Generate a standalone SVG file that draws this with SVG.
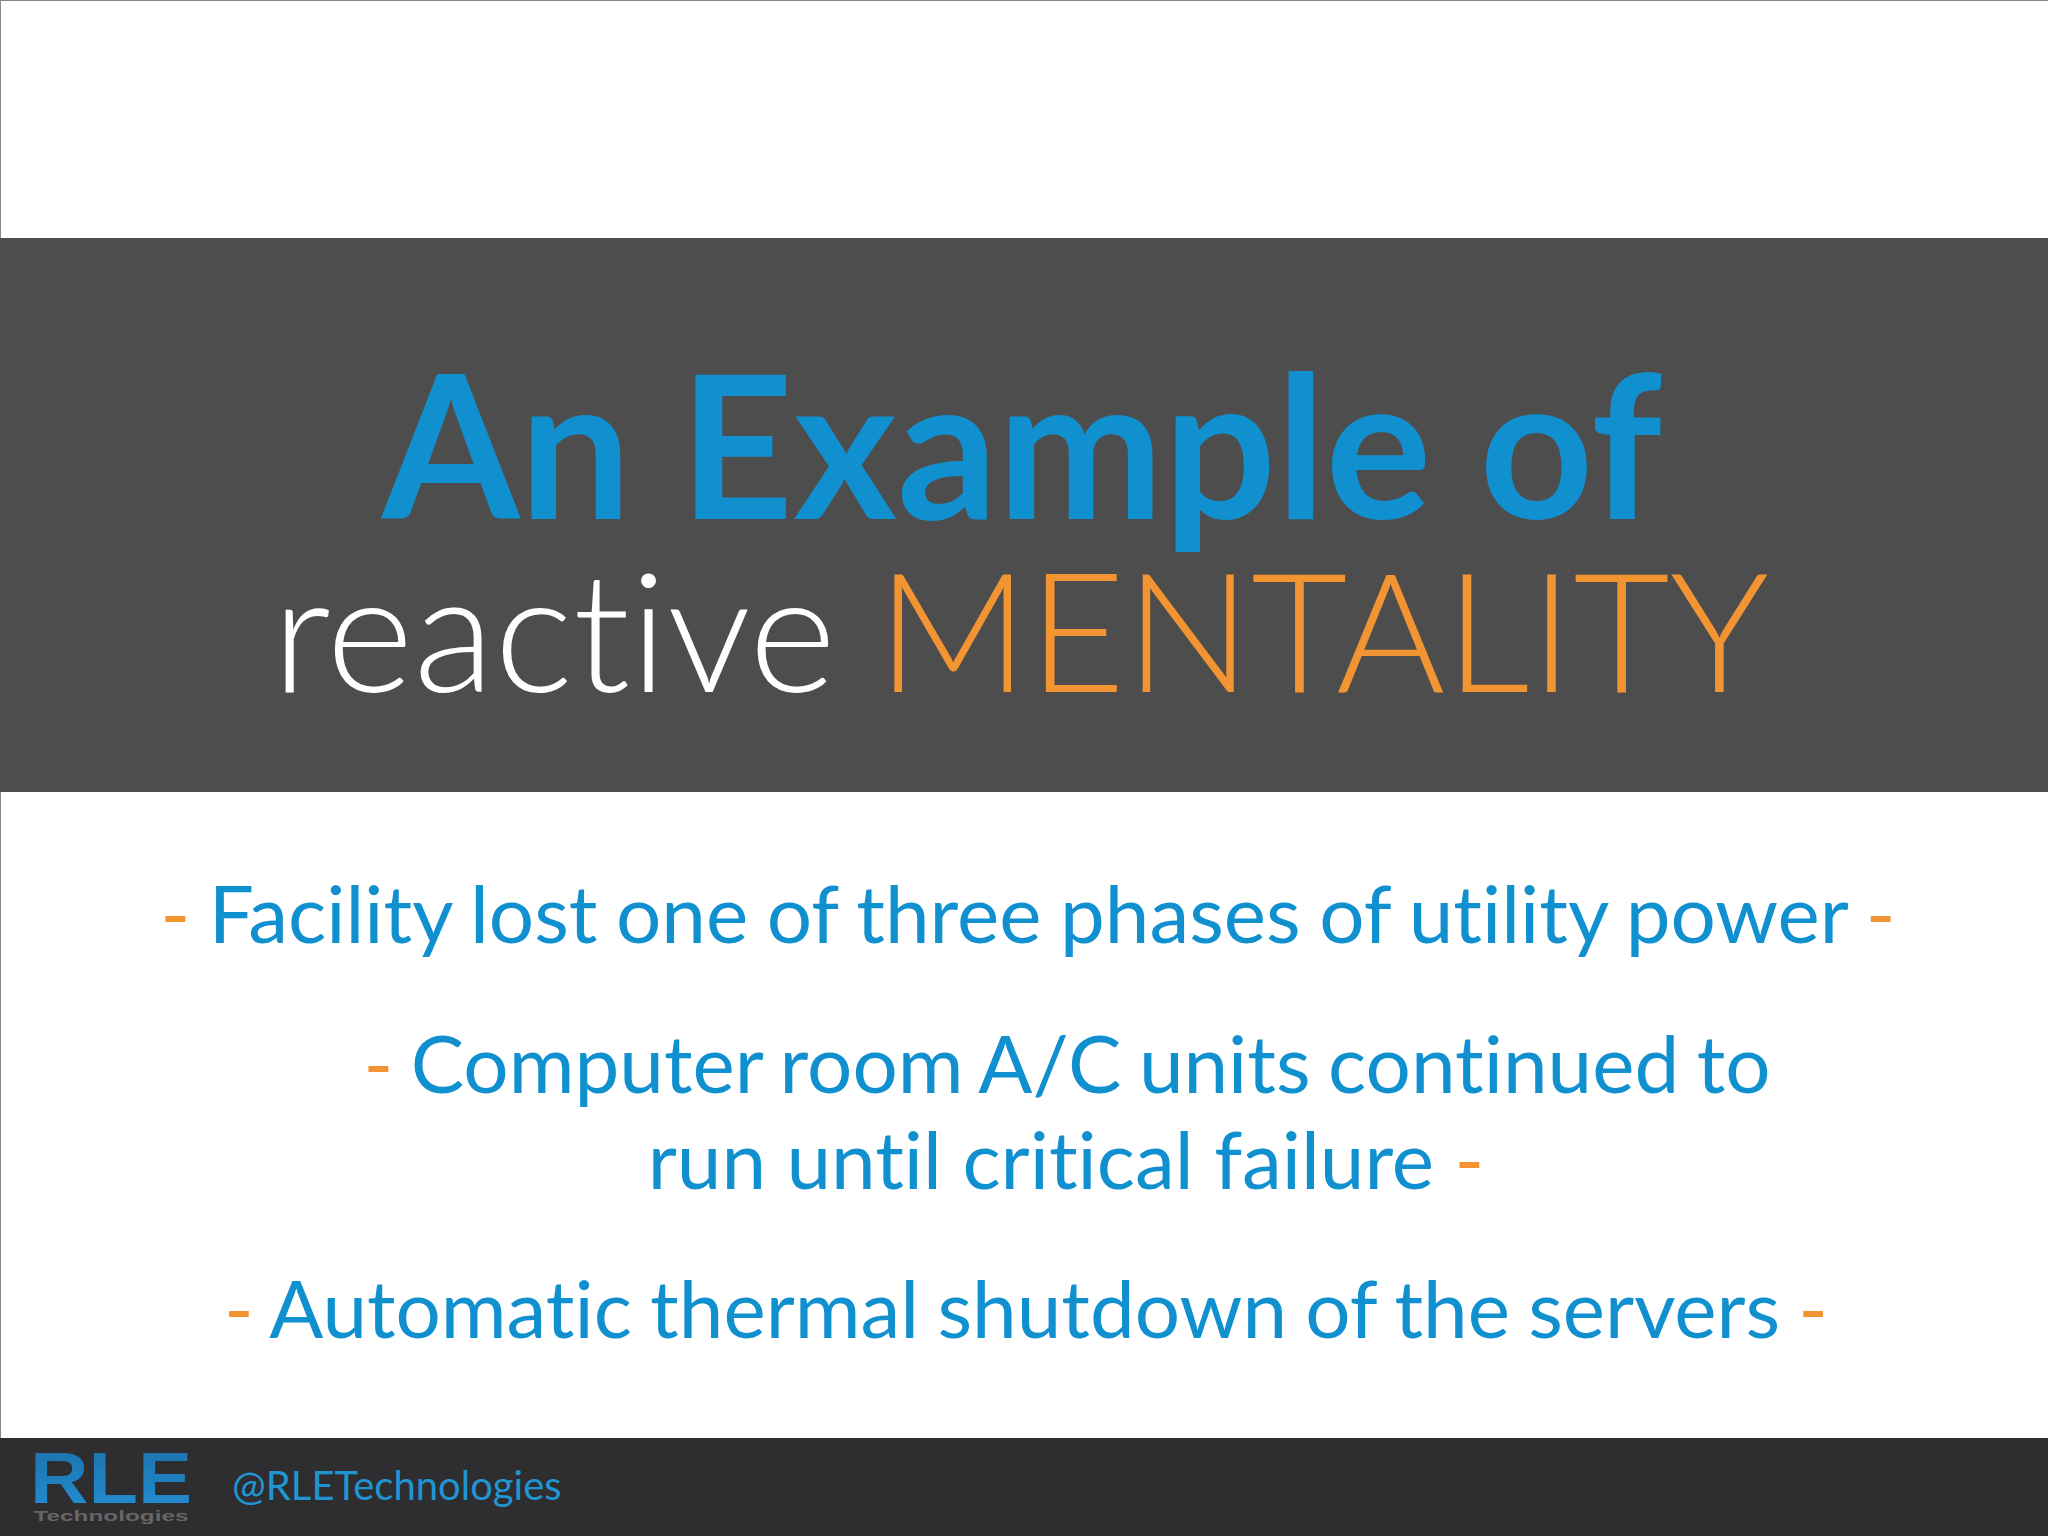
<svg xmlns="http://www.w3.org/2000/svg" width="2048" height="1536" viewBox="0 0 2048 1536">
<style>
text{font-family:Lato,"Open Sans",sans-serif;text-anchor:middle;font-variant-ligatures:none}
.b{fill:#1190d0;font-size:80px}
.o{fill:#f39433}
</style>
<defs><linearGradient id="g" x1="0" y1="0" x2="0" y2="1"><stop offset="0" stop-color="#1a6fa8"/><stop offset="1" stop-color="#2390d4"/></linearGradient></defs>
<rect width="2048" height="1536" fill="#fff"/>
<rect x="0" y="0" width="2048" height="1" fill="#888"/>
<rect x="0" y="0" width="1" height="1536" fill="#888"/>
<rect x="0" y="238" width="2048" height="554" fill="#4e4d4e"/>
<rect x="0" y="1438" width="2048" height="98" fill="#2e2d2f"/>
<text x="1022" y="519" font-size="200" font-weight="700" fill="#1190d0" textLength="1280" lengthAdjust="spacingAndGlyphs">An Example of</text>
<text x="554" y="692" font-size="165" font-weight="300" fill="#fff" textLength="564" lengthAdjust="spacingAndGlyphs">reactive</text>
<text x="1323" y="692" font-size="165" font-weight="300" fill="#f39433" textLength="892" lengthAdjust="spacingAndGlyphs">MENTALITY</text>
<text class="b" x="1028" y="943" word-spacing="-2"><tspan class="o">-</tspan> Facility lost one of three phases of utility power <tspan class="o">-</tspan></text>
<text class="b" x="1067" y="1093" word-spacing="-3"><tspan class="o">-</tspan> Computer room A/C units continued to</text>
<text class="b" x="1066" y="1189"><tspan>run until critical failure</tspan> <tspan class="o">-</tspan></text>
<text class="b" x="1026" y="1338" word-spacing="-2.3"><tspan class="o">-</tspan> Automatic thermal shutdown of the servers <tspan class="o">-</tspan></text>
<g id="logo">
<text x="111" y="1503" font-size="72" font-weight="900" fill="url(#g)" textLength="162" lengthAdjust="spacingAndGlyphs" style="font-family:'Liberation Sans',sans-serif">RLE</text>
<text x="111" y="1521" font-size="15" font-weight="700" fill="#666" textLength="155" lengthAdjust="spacingAndGlyphs" style="font-family:'Liberation Sans',sans-serif">Technologies</text>
</g>
<text x="397" y="1500" font-size="40" fill="#1f95d3">@RLETechnologies</text>
</svg>
